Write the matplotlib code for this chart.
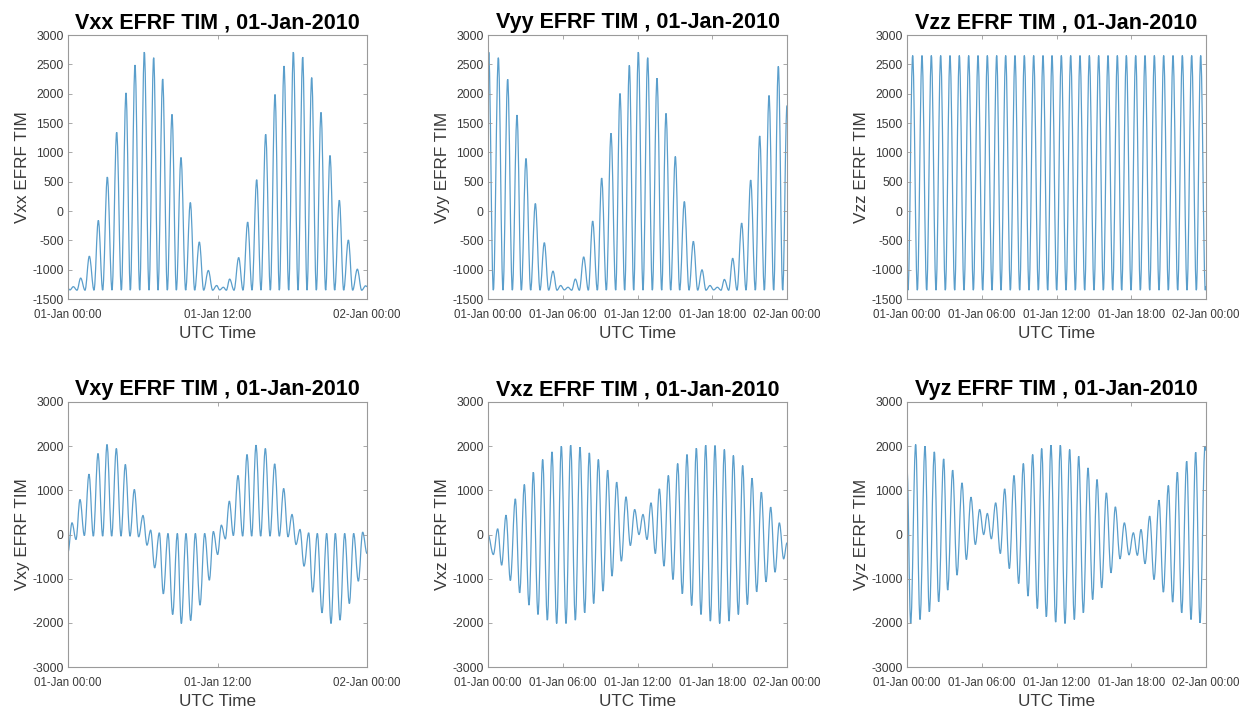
import matplotlib
matplotlib.use("Agg")
import matplotlib.pyplot as plt
from matplotlib.path import Path
from matplotlib.patches import PathPatch

plt.rcParams['font.family'] = ['Liberation Sans', 'DejaVu Sans']
plt.rcParams['axes.unicode_minus'] = False

# Time of each local extremum in minutes after 01-Jan-2010 00:00 UTC,
# and the tensor component value at that time.
vxx_t = [0, 9.6, 25.7, 43.3, 61.0, 81.9, 102.7, 125.2, 146.1, 167.0, 189.4, 211.9,
         234.4, 256.9, 279.3, 300.2, 322.7, 345.2, 367.6, 390.1, 412.6, 433.5, 455.9, 478.4,
         500.9, 521.8, 544.2, 566.7, 589.2, 610.1, 632.5, 653.4, 675.9, 696.7, 716.0, 730.5,
         748.1, 762.6, 778.6, 799.5, 822.0, 842.8, 865.3, 886.2, 908.7, 929.5, 952.0, 974.5,
         997.0, 1017.8, 1040.4, 1062.8, 1085.3, 1107.8, 1130.3, 1151.1, 1173.6, 1196.0, 1218.5, 1240.9,
         1261.8, 1284.3, 1306.8, 1327.7, 1350.2, 1371.0, 1393.5, 1414.4, 1433.6, 1440]
vxx_v = [-1320, -1345, -1290, -1350, -1144, -1350, -771, -1350, -161, -1350, 579, -1350,
         1342, -1350, 2014, -1350, 2489, -1350, 2709, -1350, 2613, -1350, 2251, -1350,
         1647, -1350, 912, -1350, 144, -1350, -528, -1350, -1014, -1350, -1270, -1345,
         -1300, -1350, -1161, -1350, -794, -1350, -189, -1350, 534, -1350, 1308, -1350,
         1986, -1350, 2472, -1350, 2709, -1350, 2624, -1350, 2274, -1350, 1681, -1350,
         946, -1350, 184, -1350, -495, -1350, -992, -1350, -1275, -1290]

vyy_t = [0, 3.2, 25.7, 49.8, 72.2, 94.7, 117.2, 139.7, 160.5, 183.0, 205.5, 228.0,
         250.4, 271.3, 292.2, 313.1, 332.3, 350.0, 367.6, 385.3, 403.0, 420.6, 439.9, 460.8,
         483.2, 504.1, 526.6, 547.4, 569.9, 592.4, 614.9, 635.7, 658.2, 680.7, 701.6, 724.0,
         746.5, 769.0, 791.5, 813.9, 836.4, 857.3, 879.8, 902.2, 923.1, 945.6, 968.1, 989.0,
         1009.8, 1030.7, 1049.9, 1069.2, 1086.9, 1104.6, 1122.2, 1138.3, 1159.2, 1178.4, 1199.2, 1221.7,
         1242.6, 1265.1, 1287.5, 1308.4, 1330.9, 1353.4, 1375.8, 1398.3, 1419.2, 1440]
vyy_v = [2300, 2709, -1350, 2613, -1350, 2246, -1350, 1636, -1350, 895, -1350, 127,
         -1350, -540, -1350, -1026, -1350, -1270, -1345, -1300, -1350, -1161, -1350, -783,
         -1350, -172, -1350, 562, -1350, 1325, -1350, 2003, -1350, 2483, -1350, 2709,
         -1350, 2613, -1350, 2263, -1350, 1664, -1350, 929, -1350, 161, -1350, -517,
         -1350, -1003, -1350, -1270, -1345, -1300, -1350, -1167, -1350, -806, -1350, -206,
         -1350, 528, -1350, 1280, -1350, 1969, -1350, 2466, -1350, 1800]

vzz_t = [0, 4.8, 27.3, 49.8, 72.2, 94.7, 117.2, 139.7, 162.1, 184.6, 207.1, 229.6,
         252.0, 274.5, 297.0, 319.5, 342.0, 364.5, 386.9, 409.4, 431.9, 452.7, 475.2, 497.7,
         520.1, 542.6, 565.1, 587.6, 610.1, 632.5, 655.0, 677.5, 698.4, 720.8, 743.3, 765.8,
         788.3, 810.7, 833.2, 855.7, 878.2, 900.6, 923.1, 945.6, 968.1, 990.6, 1013.0, 1033.9,
         1056.4, 1078.9, 1101.4, 1123.8, 1146.3, 1168.8, 1191.3, 1213.7, 1236.2, 1258.6, 1281.1, 1303.6,
         1326.1, 1348.5, 1371.0, 1393.5, 1414.4, 1436.8, 1440]
vzz_v = [-1200, -1350, 2650, -1350, 2650, -1350, 2650, -1350, 2650, -1350, 2650, -1350,
         2650, -1350, 2650, -1350, 2650, -1350, 2650, -1350, 2650, -1350, 2650, -1350,
         2650, -1350, 2650, -1350, 2650, -1350, 2650, -1350, 2650, -1350, 2650, -1350,
         2650, -1350, 2650, -1350, 2650, -1350, 2650, -1350, 2650, -1350, 2650, -1350,
         2650, -1350, 2650, -1350, 2650, -1350, 2650, -1350, 2650, -1350, 2650, -1350,
         2650, -1350, 2650, -1350, 2650, -1350, -1280]

vxy_t = [0, 19.3, 38.5, 57.8, 78.7, 101.1, 122.0, 144.5, 167.0, 187.8, 210.3, 232.8,
         255.3, 276.1, 298.6, 319.5, 340.3, 361.2, 380.5, 398.1, 417.4, 439.9, 459.1, 481.6,
         504.1, 526.6, 545.8, 568.3, 590.8, 613.3, 635.7, 658.2, 680.7, 700.0, 720.8, 738.5,
         757.8, 777.0, 796.3, 818.8, 841.2, 862.1, 884.6, 905.4, 927.9, 950.4, 972.9, 995.4,
         1017.8, 1038.7, 1059.6, 1078.9, 1098.2, 1117.4, 1136.7, 1159.2, 1178.4, 1200.8, 1223.3, 1245.8,
         1266.7, 1287.5, 1310.0, 1332.5, 1355.0, 1375.8, 1398.3, 1419.2, 1440]
vxy_v = [-400, 264, -113, 792, -23, 1366, -38, 1834, -38, 2038, -38, 1947,
         -38, 1585, -38, 1019, -53, 430, -241, 98, -755, 38, -1343, 23,
         -1811, 23, -2015, 23, -1947, 23, -1600, 23, -1034, 68, -453, 211,
         -98, 755, -23, 1336, -38, 1811, -38, 2023, -38, 1947, -38, 1600,
         -38, 1041, -53, 453, -226, 113, -717, 38, -1306, 23, -1774, 23,
         -2015, 23, -1940, 23, -1562, 23, -1057, 53, -430]

vxz_t = [0, 25.7, 46.6, 65.8, 86.7, 107.6, 131.6, 152.5, 175.0, 197.5, 218.3, 240.8,
         263.3, 285.8, 308.2, 330.7, 353.2, 375.7, 398.1, 420.6, 443.1, 465.6, 488.0, 508.9,
         531.4, 553.9, 576.3, 597.2, 619.7, 642.2, 664.6, 685.5, 706.4, 727.2, 746.5, 765.8,
         785.1, 805.9, 825.2, 847.6, 868.5, 891.0, 913.5, 935.9, 958.4, 980.9, 1003.4, 1025.9,
         1048.4, 1070.9, 1093.3, 1115.8, 1138.3, 1160.8, 1181.7, 1205.7, 1226.5, 1249.0, 1271.5, 1294.0,
         1316.4, 1338.9, 1361.4, 1382.3, 1403.1, 1424.0, 1440]
vxz_v = [0, -453, 128, -694, 438, -1041, 808, -1321, 1132, -1600, 1411, -1811,
         1698, -1940, 1872, -2015, 2000, -2015, 2023, -1940, 1977, -1774, 1849, -1562,
         1698, -1283, 1457, -943, 1185, -604, 853, -249, 566, 0, 453, -113,
         717, -430, 1034, -717, 1336, -1019, 1607, -1343, 1811, -1607, 1955, -1811,
         2023, -1962, 2015, -2015, 1925, -1962, 1789, -1811, 1562, -1585, 1275, -1298,
         958, -1072, 619, -853, 264, -551, -189]

vyz_t = [0, 17.7, 41.7, 62.6, 86.7, 107.6, 131.6, 152.5, 176.6, 195.9, 219.9, 240.8,
         264.9, 285.8, 308.2, 329.1, 350.0, 369.2, 386.9, 406.2, 427.0, 449.5, 470.4, 492.9,
         515.3, 537.8, 560.3, 582.8, 605.2, 627.7, 648.6, 671.1, 693.5, 716.0, 738.5, 761.0,
         783.4, 805.9, 826.8, 849.3, 871.7, 894.2, 915.1, 937.6, 960.1, 982.5, 1003.4, 1025.9,
         1046.8, 1069.2, 1090.1, 1109.4, 1127.1, 1146.3, 1168.8, 1189.7, 1213.7, 1234.6, 1258.6, 1279.5,
         1302.0, 1322.9, 1347.0, 1367.8, 1390.3, 1411.2, 1435.2, 1440]
vyz_v = [1500, -2015, 2038, -1925, 2000, -1751, 1872, -1525, 1713, -1260, 1457, -921,
         1170, -566, 845, -226, 566, 0, 475, -98, 717, -430, 1034, -770,
         1336, -1109, 1607, -1396, 1811, -1675, 1947, -1864, 2023, -1985, 2023, -2015,
         1925, -1925, 1774, -1774, 1509, -1472, 1245, -1208, 943, -868, 626, -551,
         264, -460, 38, -470, 113, -660, 415, -1019, 777, -1306, 1109, -1532,
         1411, -1774, 1660, -1925, 1864, -2000, 2000, 1900]

components = ["Vxx", "Vyy", "Vzz", "Vxy", "Vxz", "Vyz"]
series_t = [vxx_t, vyy_t, vzz_t, vxy_t, vxz_t, vyz_t]
series_v = [vxx_v, vyy_v, vzz_v, vxy_v, vxz_v, vyz_v]
date_text = "01-Jan-2010"

ticks_half_day = [0, 720, 1440]
labels_half_day = ["01-Jan 00:00", "01-Jan 12:00", "02-Jan 00:00"]
ticks_quarter_day = [0, 360, 720, 1080, 1440]
labels_quarter_day = ["01-Jan 00:00", "01-Jan 06:00", "01-Jan 12:00",
                      "01-Jan 18:00", "02-Jan 00:00"]
yticks_diag = [-1500, -1000, -500, 0, 500, 1000, 1500, 2000, 2500, 3000]
yticks_offdiag = [-3000, -2000, -1000, 0, 1000, 2000, 3000]


def extremum_path(t, v, k=0.3642):
    """Smooth curve through successive extrema: flat tangent at every
    turning point, cubic Bezier segments in between."""
    verts = [(t[0], v[0])]
    codes = [Path.MOVETO]
    for i in range(1, len(t)):
        dx = t[i] - t[i - 1]
        verts += [(t[i - 1] + k * dx, v[i - 1]), (t[i] - k * dx, v[i]), (t[i], v[i])]
        codes += [Path.CURVE4] * 3
    return Path(verts, codes)


W, H = 1242, 711
fig = plt.figure(figsize=(W / 100, H / 100), dpi=100)
fig.patch.set_facecolor("white")

col_left = [68, 488, 907]
ax_w = 299
rows = [(35, 299), (402, 667)]

line_color = "#5a9ecb"
frame_color = "#9a9a9a"
text_color = "#3a3a3a"

for i, name in enumerate(components):
    r, c = divmod(i, 3)
    top, bot = rows[r]
    ax = fig.add_axes([col_left[c] / W, 1 - bot / H, ax_w / W, (bot - top) / H])
    ax.add_patch(PathPatch(extremum_path(series_t[i], series_v[i]), fill=False,
                           edgecolor=line_color, lw=0.9))
    ax.set_xlim(0, 1440)
    if r == 0:
        ax.set_ylim(-1500, 3000)
        ax.set_yticks(yticks_diag)
    else:
        ax.set_ylim(-3000, 3000)
        ax.set_yticks(yticks_offdiag)
    if name in ("Vxx", "Vxy"):
        ax.set_xticks(ticks_half_day)
        ax.set_xticklabels(labels_half_day)
    else:
        ax.set_xticks(ticks_quarter_day)
        ax.set_xticklabels(labels_quarter_day)
    ax.tick_params(direction="in", length=3, width=0.6, colors=frame_color,
                   labelcolor=text_color, top=True, right=True)
    ax.tick_params(axis="y", labelsize=8.8, pad=3)
    ax.tick_params(axis="x", labelsize=8.3, pad=7)
    for s in ax.spines.values():
        s.set_color(frame_color)
        s.set_linewidth(0.8)
    ax.set_title(f"{name} EFRF TIM , {date_text}", fontsize=15.5, fontweight="bold",
                 color="black", pad=5)
    ax.set_ylabel(f"{name} EFRF TIM", fontsize=12.3, color=text_color, labelpad=2)
    ax.set_xlabel("UTC Time", fontsize=12.3, color=text_color, labelpad=4)

fig.savefig("out.png", dpi=100, facecolor="white")
